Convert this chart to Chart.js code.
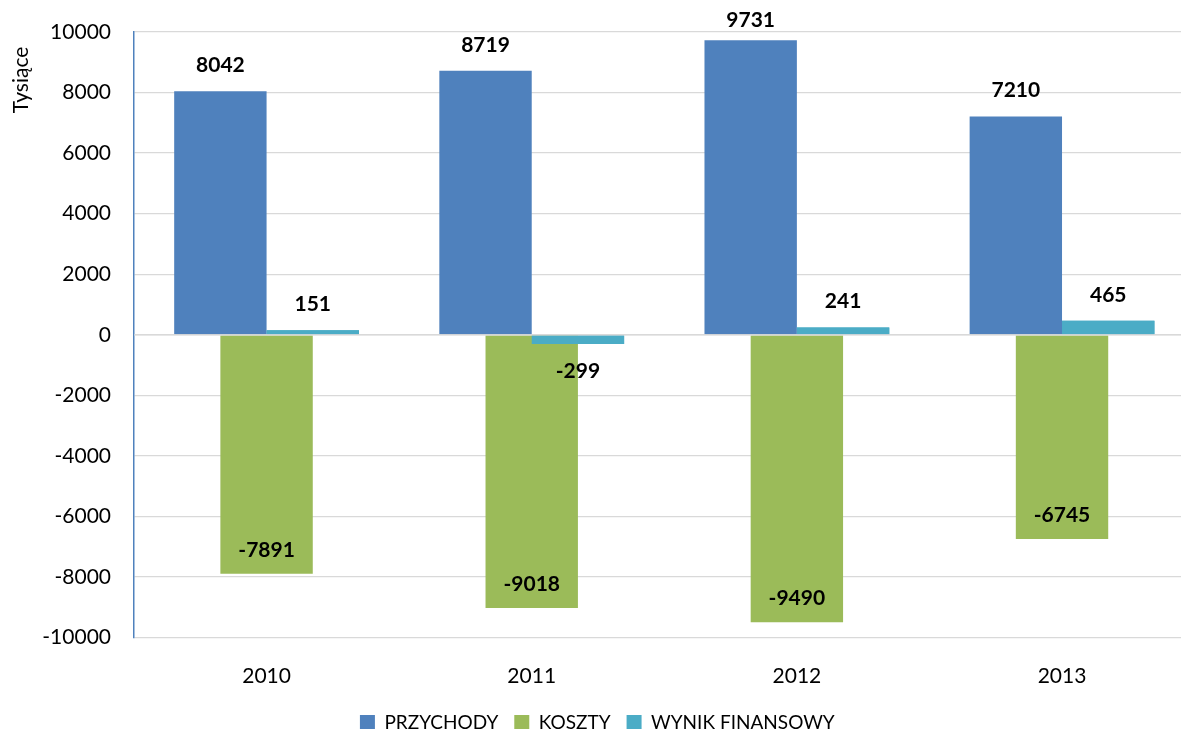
<!DOCTYPE html>
<html>
<head>
<meta charset="utf-8">
<script src="https://cdn.jsdelivr.net/npm/chart.js@4/dist/chart.umd.min.js"></script>
<style>
  html, body { margin: 0; padding: 0; background: #ffffff; overflow: hidden; }
  #wrap { position: relative; width: 1197px; height: 745px; }
</style>
</head>
<body>
<div id="wrap"><canvas id="chart" width="1197" height="745"></canvas></div>
<script>
// Financial results per year, in thousands
const years = ['2010', '2011', '2012', '2013'];
const przychody = [8042, 8719, 9731, 7210];
const koszty = [-7891, -9018, -9490, -6745];
const wynikFinansowy = [151, -299, 241, 465];
const seriesNames = ['PRZYCHODY', 'KOSZTY', 'WYNIK FINANSOWY'];
const yTickValues = [10000, 8000, 6000, 4000, 2000, 0, -2000, -4000, -6000, -8000, -10000];
const yAxisTitle = 'Tysiące';

const FONT = 'Lato';

// Value labels above/below each bar, plus the zero line and the y axis title
const valueLabels = {
  id: 'valueLabels',
  afterDatasetsDraw(chart, args, opts) {
    const ctx = chart.ctx;
    // the result series sits on top of the cost bars where they overlap
    chart.getDatasetMeta(2).controller.draw();

    const area = chart.chartArea;
    const y0 = chart.scales.y.getPixelForValue(0);
    ctx.save();
    ctx.strokeStyle = '#D9D9D9';
    ctx.lineWidth = 1.3;
    ctx.beginPath();
    ctx.moveTo(area.left, y0);
    ctx.lineTo(area.right, y0);
    ctx.stroke();

    ctx.font = 'bold 21px ' + FONT;
    ctx.fillStyle = '#000000';
    ctx.textAlign = 'center';
    ctx.textBaseline = 'middle';
    chart.data.datasets.forEach((ds, di) => {
      const meta = chart.getDatasetMeta(di);
      const inside = opts.insideEnd.includes(di);
      meta.data.forEach((bar, i) => {
        const v = ds.data[i];
        let y;
        if (v >= 0) y = bar.y - 26;
        else y = inside ? bar.y - 24 : bar.y + 27;
        // keep labels inside the canvas margin
        y = Math.max(y, opts.minY);
        ctx.fillText(String(v), bar.x, y);
      });
    });
    ctx.restore();
  },
  afterDraw(chart) {
    const ctx = chart.ctx;
    ctx.save();
    ctx.font = '21px ' + FONT;
    ctx.fillStyle = '#000000';
    ctx.textAlign = 'center';
    ctx.textBaseline = 'alphabetic';
    ctx.translate(28, 80);
    ctx.rotate(-Math.PI / 2);
    ctx.fillText(yAxisTitle, 0, 0);
    ctx.restore();
  }
};

new Chart(document.getElementById('chart'), {
  type: 'bar',
  data: {
    labels: years,
    datasets: [
      { label: seriesNames[0], data: przychody, backgroundColor: '#4F81BD' },
      { label: seriesNames[1], data: koszty, backgroundColor: '#9BBB59' },
      { label: seriesNames[2], data: wynikFinansowy, backgroundColor: '#4BACC6' }
    ]
  },
  options: {
    responsive: false,
    animation: false,
    devicePixelRatio: 1,
    // bars twice as wide as their slot, so neighbouring series overlap by half
    categoryPercentage: 0.5227,
    barPercentage: 2,
    borderWidth: 0,
    layout: { padding: { top: 32, right: 2.4, bottom: 3, left: 0 } },
    plugins: {
      tooltip: { enabled: false },
      valueLabels: { insideEnd: [1], minY: 20 },
      legend: {
        position: 'bottom',
        labels: {
          boxWidth: 15,
          boxHeight: 15,
          padding: 16,
          color: '#000000',
          font: { family: FONT, size: 19 }
        }
      }
    },
    scales: {
      x: {
        grid: { display: false },
        border: { display: false },
        ticks: { color: '#000000', font: { family: FONT, size: 21 }, padding: 18 },
        afterFit(scale) { scale.height = 59.3; }
      },
      y: {
        min: -10000,
        max: 10000,
        afterBuildTicks(scale) { scale.ticks = yTickValues.map(v => ({ value: v })); },
        // invisible tick marks keep the labels clear of the axis line
        grid: { color: '#D9D9D9', lineWidth: 1.3, drawTicks: true, tickLength: 23, tickColor: 'rgba(0,0,0,0)' },
        border: { color: '#4F81BD', width: 1.5 },
        ticks: {
          color: '#000000',
          font: { family: FONT, size: 21 },
          padding: 0,
          callback: v => String(v)
        },
        afterFit(scale) { scale.width = 134; }
      }
    }
  },
  plugins: [valueLabels]
});
</script>
</body>
</html>
